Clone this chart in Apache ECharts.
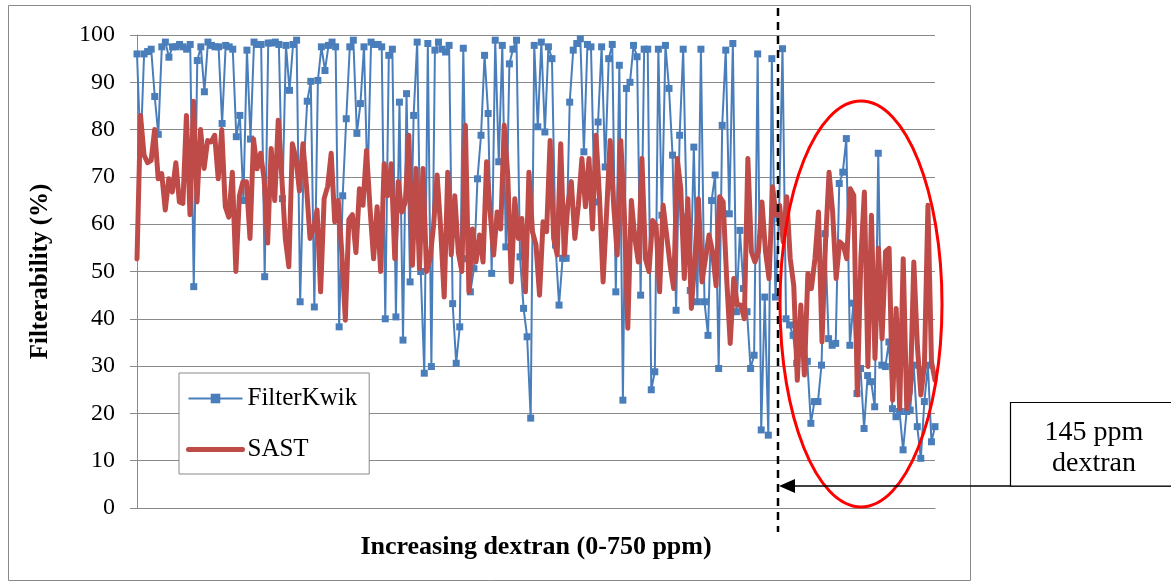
<!DOCTYPE html>
<html>
<head>
<title>filterability-dextran</title>
<meta http-equiv="content-type" content="text/html; charset=UTF-8">
<script src="https://cdn.jsdelivr.net/npm/echarts@6/dist/echarts.min.js"></script>
<style type="text/css">
html, body {
	margin: 0;
	padding: 0;
	background: #fff;
}

#main {
	width: 1171px;
	height: 585px;
}
</style>
</head>

<body>
	<div id="main"></div>
	<script type="text/javascript">
		/* FilterKwik readings, left to right (%) */
		var filterKwik = [
			96, 75.5, 96, 96.5, 97, 87, 79, 97.5, 98.5, 95.3, 97.5, 97.5, 98, 97.5, 97, 98, 46.8, 94.6, 97.5, 88, 98.5, 97.8, 97.5, 97.5, 81.3, 97.8,
			97.5, 97, 78.5, 83, 65, 96.8, 78, 98.5, 98, 98, 48.9, 98.3, 98.3, 98.5, 98, 65.4, 97.8, 88.3, 98, 98.9, 43.6, 72.5, 86, 90.2, 42.5, 90.4, 97.5, 92.5,
			97.8, 98.5, 97.5, 38.3, 66, 82.3, 97.5, 98.9, 79.2, 85.5, 97.5, 68.2, 98.5, 98, 98, 97.5, 40, 95.7, 97, 40.4, 85.8, 35.5, 87.6, 47.8, 83, 98.5,
			50, 28.5, 98.2, 29.9, 96.8, 98.5, 97, 96.4, 97.8, 43.2, 30.6, 38.3, 97.2, 52.7, 45.7, 50.6, 69.6, 78.8, 95.7, 83.4, 49.6, 98.9, 73.2, 97.8, 55.2, 93.9, 97, 98.9,
			53.1, 42.2, 36.2, 19, 97.8, 80.6, 98.5, 79.5, 97.5, 95, 55.6, 42.9, 52.8, 52.8, 85.8, 96.8, 98.2, 99.2, 75.3, 98, 97.5, 64.7, 81.6, 97.5, 72.1, 95, 98, 45.7, 93.6, 22.8, 88.7, 90, 97.8,
			95.4, 45, 97, 97, 25, 28.8, 97, 61.9, 97.8, 88.7, 74.6, 41.8, 78.8, 97, 61.5, 46, 76.3, 43.6, 97, 43.6, 36.5, 65, 70.4, 29.5, 80.9, 96.8, 62.2, 98.2, 41.5, 58.7,
			46.4, 41.5, 29.5, 32.3, 96, 16.5, 44.6, 15.4, 95, 44.6, 61.2, 97.1, 40, 38.7, 36.5, 30.6, 35.8, 40, 31, 17.9, 22.5, 22.5, 30.2, 58, 35.8, 34.4, 34.8, 68.6, 71, 78.1,
			34.4, 43.3, 24.2, 29.5, 16.8, 28, 26.7, 21.4, 75, 30.2, 29.9, 35.1, 21, 19.3, 20.4, 12.3, 20.4, 20.7, 30.2, 17.2, 10.5, 22.5, 30.2, 14, 17.2
		];
		/* SAST readings, left to right (%) */
		var sast = [
			52.7, 83, 74.6, 73, 73.5, 80, 69.6, 70.7, 63, 69.6, 66.8, 73, 64.7, 64.4, 83, 62, 86, 64.7, 80, 71.8, 77.7, 77.4, 78.8, 69.6, 80, 63.7,
			61.5, 71, 50, 66, 69, 69, 57, 78, 71.7, 75, 69.6, 56, 76, 65, 82, 70, 57, 51, 77, 74, 67, 77, 68, 57, 59, 63, 45.7, 65.4, 68, 75,
			60.5, 65, 54, 39.7, 61, 62, 54, 67.5, 64, 75.6, 63.3, 52.7, 63.7, 50, 72.8, 66, 72.8, 52.7, 69, 62.6, 64.7, 78.8, 51.3, 71.8, 50.6, 71.8, 50, 52.7, 59.8, 70.4,
			59, 44.6, 71, 53.5, 66, 54, 50, 80.9, 45.7, 59, 52, 57.7, 52, 73.2, 62.6, 53.5, 62.6, 59, 80.9, 70.4, 47.8, 65.4, 57, 61.2, 45.7, 71, 58.4, 55.6,
			45, 60.5, 58.4, 77.7, 57, 53.5, 77, 53.5, 64, 69, 57, 64, 73.9, 63.7, 73.9, 59, 78.8, 65.4, 47.8, 62.6, 77.7, 64, 53.5, 77.7, 62.6, 38, 65, 57, 52, 73.9,
			52.7, 50, 60.8, 59.8, 45.7, 64, 57.7, 51.3, 46.4, 73.9, 67.5, 48.5, 65.4, 42.2, 52.7, 65.4, 47.8, 52.7, 57.7, 54.2, 47, 65.8, 64.7, 48.5, 34.8, 48.5,
			42.9, 42.9, 40, 73.9, 54.2, 52, 54.2, 64.7, 54.2, 48.5, 67.9, 61.9, 64, 56.3, 65.8, 52.7, 47, 27, 42.9, 28.1, 49.6, 46.4, 52.7, 62.6, 35.1, 56.3, 71, 62.6, 48.5,
			56.3, 55.6, 52.7, 67.5, 66.1, 23.9, 52.7, 66.8, 29.9, 61.9, 31.6, 54.9, 35.8, 54.2, 54.9, 22.8, 42.2, 21, 52.7, 21, 24.6, 52, 34.4, 23.9, 30.2, 64, 30.9, 27
		];
		var yTicks = [0, 100, 10];
		var seriesNames = ['FilterKwik', 'SAST'];
		var noteLines = ['145 ppm', 'dextran'];

		// each series gets its own category axis (different number of readings)
		var catsA = filterKwik.map(function(v, i) { return i + 1; });
		var catsB = sast.map(function(v, i) { return i + 1; });

		var FONT = 'Liberation Serif';
		var GRAY = '#898989';

		var myChart = echarts.init(document.getElementById('main'), null, { renderer: 'canvas' });

		var option = {
			animation: false,
			backgroundColor: '#fff',
			grid: { left: 137, top: 35, width: 798, height: 473, containLabel: false },
			legend: {
				orient: 'vertical',
				left: 179, top: 373,
				padding: [13, 12, 12, 7],
				itemWidth: 54, itemHeight: 12, itemGap: 26,
				backgroundColor: '#fff',
				borderColor: GRAY, borderWidth: 1,
				textStyle: { fontFamily: FONT, fontSize: 25, color: '#000', lineHeight: 24 },
				data: [
					{ name: seriesNames[0] },
					// SAST has no markers: hide the symbol, keep a thick line
					{ name: seriesNames[1], itemStyle: { opacity: 0 }, lineStyle: { width: 5, cap: 'round' } }
				]
			},
			xAxis: [{
				type: 'category', data: catsA, boundaryGap: false,
				axisLine: { lineStyle: { color: GRAY, width: 1 } },
				axisTick: { show: false }, axisLabel: { show: false },
				name: 'Increasing dextran (0-750 ppm)', nameLocation: 'middle', nameGap: 26,
				nameTextStyle: { fontFamily: FONT, fontSize: 26, fontWeight: 'bold', color: '#000' }
			}, {
				type: 'category', data: catsB, boundaryGap: false, show: false
			}],
			yAxis: {
				type: 'value', min: yTicks[0], max: yTicks[1], interval: yTicks[2],
				axisLine: { show: true, lineStyle: { color: GRAY, width: 1 } },
				axisTick: { show: true, length: 7, lineStyle: { color: GRAY } },
				axisLabel: { fontFamily: FONT, fontSize: 24, color: '#000', margin: 22 },
				splitLine: { lineStyle: { color: GRAY, width: 1 } },
				name: 'Filterability (%)', nameLocation: 'middle', nameGap: 84, nameRotate: 90,
				nameTextStyle: { fontFamily: FONT, fontSize: 25, fontWeight: 'bold', color: '#000' }
			},
			series: [{
				name: seriesNames[0], type: 'line', xAxisIndex: 0, data: filterKwik,
				symbol: 'rect', symbolSize: 7, showAllSymbol: true,
				itemStyle: { color: '#4A7EBB' },
				lineStyle: { color: '#4A7EBB', width: 2 },
				z: 2
			}, {
				name: seriesNames[1], type: 'line', xAxisIndex: 1, data: sast,
				symbol: 'none',
				itemStyle: { color: '#BE4B48' },
				lineStyle: { color: '#BE4B48', width: 5, cap: 'round', join: 'round' },
				z: 3
			}],
			graphic: [
				// chart frame
				{ type: 'rect', shape: { x: 8.5, y: 5.5, width: 962, height: 575 }, style: { fill: null, stroke: GRAY, lineWidth: 1 }, z: 1, silent: true },
				// dashed marker at 145 ppm
				{ type: 'line', shape: { x1: 778, y1: 8, x2: 778, y2: 532 }, style: { stroke: '#000', lineWidth: 2.5, lineDash: [8, 6] }, z: 100 },
				// highlighted region
				{ type: 'ellipse', shape: { cx: 861, cy: 304, rx: 81, ry: 203 }, style: { fill: null, stroke: '#FF0000', lineWidth: 3 }, z: 100 },
				// arrow from note to dashed line
				{ type: 'line', shape: { x1: 1180, y1: 486, x2: 790, y2: 486 }, style: { stroke: '#000', lineWidth: 1.5 }, z: 100 },
				{ type: 'polygon', shape: { points: [[779, 486], [795, 479], [795, 493]] }, style: { fill: '#000' }, z: 100 },
				// note box
				{ type: 'rect', shape: { x: 1010.5, y: 402.5, width: 170, height: 83.5 }, style: { fill: '#fff', stroke: '#000', lineWidth: 1.2 }, z: 100 },
				{ type: 'text', x: 1094, y: 433, style: { text: noteLines[0], font: '28px "' + FONT + '"', fill: '#000', textAlign: 'center', textVerticalAlign: 'middle' }, z: 101 },
				{ type: 'text', x: 1094, y: 464, style: { text: noteLines[1], font: '28px "' + FONT + '"', fill: '#000', textAlign: 'center', textVerticalAlign: 'middle' }, z: 101 }
			]
		};

		myChart.setOption(option);
	</script>
</body>
</html>
